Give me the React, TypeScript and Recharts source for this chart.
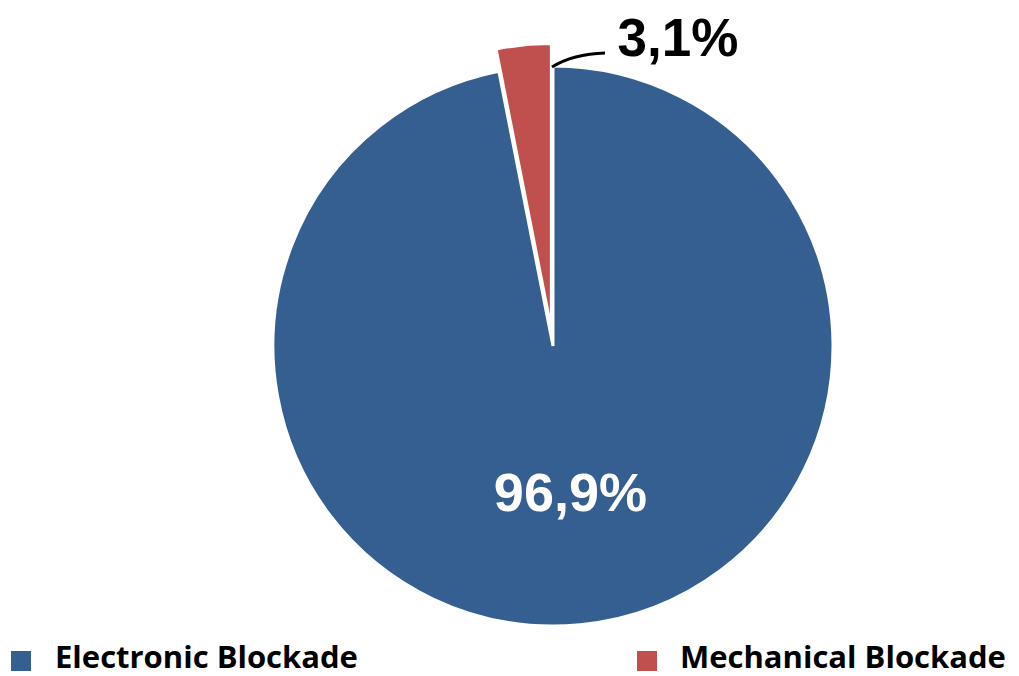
import { PieChart, Pie, Cell, Legend } from "recharts";

const categories = ["Electronic Blockade", "Mechanical Blockade"];
const shares = [96.9, 3.1];
const labels = ["96,9%", "3,1%"];
const colors = ["#365F91", "#C0504D"];

const data = categories.map((name, i) => ({ name, value: shares[i] }));

const CX = 553;
const CY = 346;
const R = 280;
const EXPLODE = 22;

// mid angle of the exploded slice (starts at 90° going clockwise)
const midMech = 90 + (shares[1] / 100) * 180;
const MCX = CX + EXPLODE * Math.cos((midMech * Math.PI) / 180);
const MCY = CY - EXPLODE * Math.sin((midMech * Math.PI) / 180);

// eslint-disable-next-line @typescript-eslint/no-explicit-any
function MainLabel(props: any) {
  const { cx, cy, midAngle, outerRadius, index } = props;
  if (index !== 0) return null;
  const rad = (midAngle * Math.PI) / 180;
  const r = outerRadius * 0.53;
  const x = cx + r * Math.cos(rad);
  const y = cy - r * Math.sin(rad);
  return (
    <text
      x={x + 3}
      y={y + 17}
      fill="#fff"
      textAnchor="middle"
      fontFamily="'Liberation Sans', Arial, sans-serif"
      fontWeight={700}
      fontSize={54}
    >
      {labels[0]}
    </text>
  );
}

// eslint-disable-next-line @typescript-eslint/no-explicit-any
function MechLabel(props: any) {
  const { index } = props;
  if (index !== 1) return null;
  const sx = CX;
  const sy = CY - R;
  return (
    <g>
      <path
        d={`M ${sx - 1} ${sy + 1} Q ${sx + 20} ${sy - 12} ${sx + 52} ${sy - 13}`}
        stroke="#000"
        strokeWidth={3}
        fill="none"
      />
      <text
        x={sx + 125}
        y={sy - 10}
        fill="#000"
        textAnchor="middle"
        fontFamily="'Liberation Sans', Arial, sans-serif"
        fontWeight={700}
        fontSize={53}
      >
        {labels[1]}
      </text>
    </g>
  );
}

function LegendBox() {
  const items = [
    { sq: 11, tx: 55 },
    { sq: 637, tx: 680 },
  ];
  return (
    <div style={{ position: "relative", width: 1019, height: 40 }}>
      {categories.map((c, i) => (
        <div key={c}>
          <div
            style={{
              position: "absolute",
              left: items[i].sq,
              top: 15,
              width: 20,
              height: 20,
              background: colors[i],
            }}
          />
          <div
            style={{
              position: "absolute",
              left: items[i].tx,
              top: 0,
              fontFamily: "'Open Sans', sans-serif",
              fontWeight: 700,
              fontSize: 31,
              lineHeight: "40px",
              color: "#000",
              whiteSpace: "nowrap",
            }}
          >
            {c}
          </div>
        </div>
      ))}
    </div>
  );
}

export default function App() {
  return (
    <div style={{ position: "absolute", left: 0, top: 0, width: 1019, height: 676, background: "#fff" }}>
      <PieChart width={1019} height={676} margin={{ top: 0, right: 0, bottom: 0, left: 0 }}>
        <Pie
          data={data}
          dataKey="value"
          cx={CX}
          cy={CY}
          outerRadius={R}
          startAngle={90}
          endAngle={-270}
          stroke="#fff"
          strokeWidth={3}
          label={MainLabel}
          labelLine={false}
          isAnimationActive={false}
        >
          <Cell fill={colors[0]} />
          <Cell fill="none" stroke="none" />
        </Pie>
        <Pie
          data={data}
          dataKey="value"
          cx={MCX}
          cy={MCY}
          outerRadius={R}
          startAngle={90}
          endAngle={-270}
          stroke="#fff"
          strokeWidth={2}
          label={MechLabel}
          labelLine={false}
          isAnimationActive={false}
        >
          <Cell fill="none" stroke="none" />
          <Cell fill={colors[1]} />
        </Pie>
        <Legend
          content={() => <LegendBox />}
          wrapperStyle={{ position: "absolute", left: 0, top: 636, width: 1019 }}
        />
      </PieChart>
    </div>
  );
}
